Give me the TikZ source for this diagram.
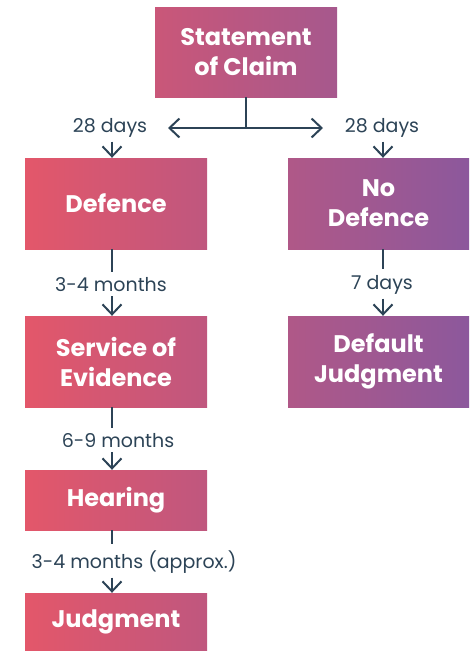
\documentclass[tikz,border=0pt]{standalone}
\usepackage{fontspec}
\setmainfont{Poppins}
\usetikzlibrary{arrows.meta}
\definecolor{gA}{RGB}{227,87,106}
\definecolor{gB}{RGB}{140,88,156}
\definecolor{ink}{RGB}{44,67,86}
\colorlet{cTopL}{gA!71!gB}
\colorlet{cTopR}{gA!30!gB}
\colorlet{cLeftR}{gA!59!gB}
\colorlet{cRightL}{gA!41!gB}
\tikzset{
  box/.style={minimum width=182pt, inner sep=0pt, text=white, font=\fontsize{24}{30}\selectfont\bfseries, align=center},
  lbox/.style={box, left color=gA, right color=cLeftR},
  rbox/.style={box, left color=cRightL, right color=gB, minimum width=181pt},
  lbl/.style={text=ink, font=\fontsize{19}{22}\selectfont, inner sep=0pt},
  conn/.style={draw=ink, line width=2pt},
  tip/.tip={Straight Barb[length=10pt,width=19pt,line width=2pt]},
  arr/.style={conn, -tip},
  darr/.style={conn, tip-tip},
}
\begin{document}
\begin{tikzpicture}[x=1pt,y=-1pt]
\useasboundingbox (0,0) rectangle (476,651);
\node[box, left color=cTopL, right color=cTopR, minimum height=90pt] (soc) at (246,52) {Statement\\of Claim};
\node[lbox, minimum height=91pt] (def) at (116,203.5) {Defence};
\node[rbox, minimum height=91pt] (nodef) at (378.5,203.5) {No\\Defence};
\node[lbox, minimum height=91pt] (soe) at (116,361.5) {Service of\\Evidence};
\node[rbox, minimum height=91pt] (dj) at (378.5,361.5) {Default\\Judgment};
\node[lbox, minimum height=60pt] (hear) at (116,500) {Hearing};
\node[lbox, minimum height=58pt] (judg) at (116,622) {Judgment};
% labels
\node[lbl] (l28a) at (110,128) {28 days};
\node[lbl] (l28b) at (382,128) {28 days};
\node[lbl] (l34) at (111,285) {3-4 months};
\node[lbl] (l7) at (382,285) {7 days};
\node[lbl] (l69) at (118,441) {6-9 months};
\node[lbl] (l34b) at (134,562) {3-4 months (approx.)};
% coordinates
\coordinate (hl) at (168,128);
\coordinate (hr) at (323,128);
\coordinate (hm) at (246,128);
\coordinate (cl) at (112,0);
\coordinate (cr) at (383,0);
% connectors
\draw[conn] (soc.south) -- (hm);
\draw[darr] (hl) -- (hr);
\draw[arr] ([yshift=-4pt]l28a.south -| cl) -- (def.north -| cl);
\draw[arr] ([yshift=-4pt]l28b.south -| cr) -- (nodef.north -| cr);
\draw[conn] (def.south -| cl) -- ([yshift=6pt]l34.north -| cl);
\draw[arr] ([yshift=-4pt]l34.south -| cl) -- (soe.north -| cl);
\draw[conn] (nodef.south -| cr) -- ([yshift=6pt]l7.north -| cr);
\draw[arr] ([yshift=-4pt]l7.south -| cr) -- (dj.north -| cr);
\draw[conn] (soe.south -| cl) -- ([yshift=6pt]l69.north -| cl);
\draw[arr] ([yshift=-4pt]l69.south -| cl) -- (hear.north -| cl);
\draw[conn] (hear.south -| cl) -- ([yshift=6pt]l34b.north -| cl);
\draw[arr] ([yshift=-4pt]l34b.south -| cl) -- (judg.north -| cl);
\end{tikzpicture}
\end{document}
